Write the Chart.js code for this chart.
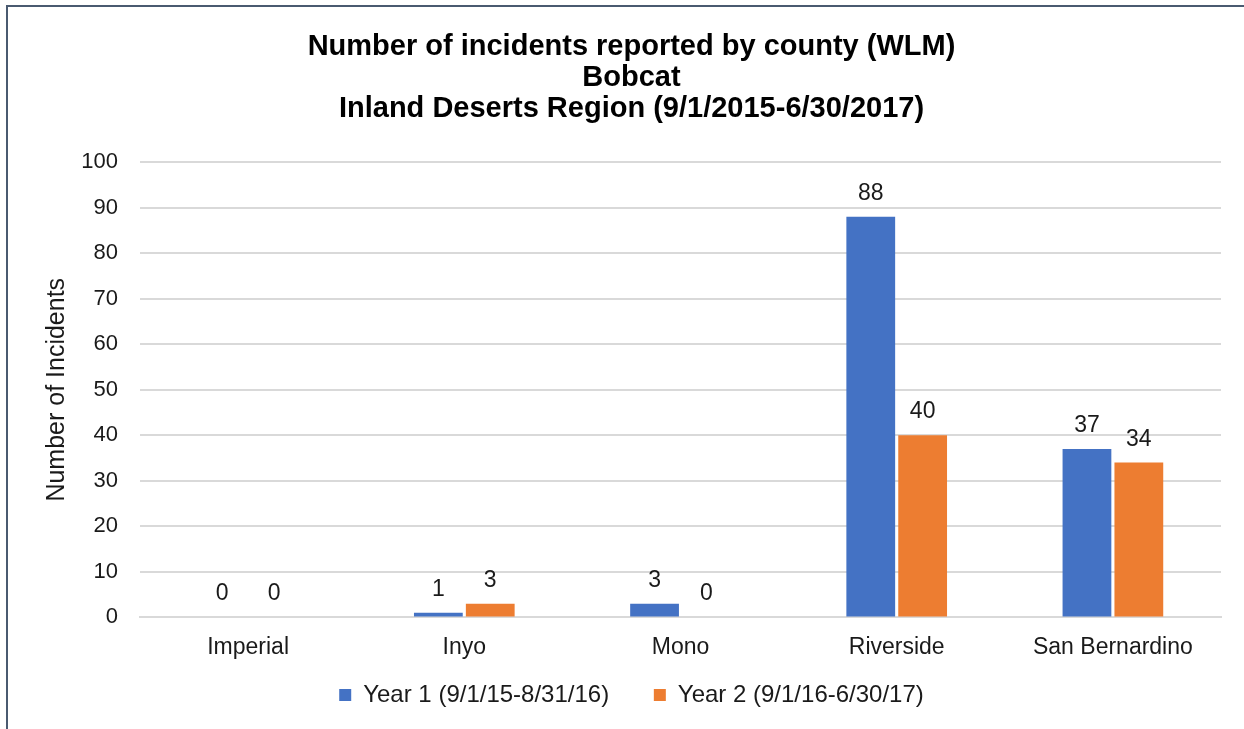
<!DOCTYPE html>
<html>
<head>
<meta charset="utf-8">
<script src="https://cdn.jsdelivr.net/npm/chart.js@4.4.0/dist/chart.umd.min.js"></script>
<style>
  body { margin: 0; background: #fff; overflow: hidden; }
  #frame { position: absolute; left: 6px; top: 5px; width: 1400px; height: 900px; border: 2px solid #4a5a70; box-sizing: border-box; }
  #wrap { position: absolute; left: 0; top: 0; width: 1244px; height: 729px; }
</style>
</head>
<body>
<div id="frame"></div>
<div id="wrap"><canvas id="chart" width="1244" height="729"></canvas></div>
<script>
var counties = ['Imperial', 'Inyo', 'Mono', 'Riverside', 'San Bernardino']
var year1 = [0, 1, 3, 88, 37]
var year2 = [0, 3, 0, 40, 34]
var series_names = ['Year 1 (9/1/15-8/31/16)', 'Year 2 (9/1/16-6/30/17)']
var title_lines = ['Number of incidents reported by county (WLM)', 'Bobcat', 'Inland Deserts Region (9/1/2015-6/30/2017)']

var font_family = '"Liberation Sans", Arial, sans-serif'

// draws the value above each bar
var barLabels = {
    id: 'barLabels',
    afterDatasetsDraw: function(chart) {
        var ctx = chart.ctx
        ctx.save()
        ctx.font = '23px ' + font_family
        ctx.fillStyle = '#1a1a1a'
        ctx.textAlign = 'center'
        ctx.textBaseline = 'alphabetic'
        chart.data.datasets.forEach(function(ds, i) {
            chart.getDatasetMeta(i).data.forEach(function(bar, j) {
                ctx.fillText(ds.data[j], bar.x, bar.y - 17)
            })
        })
        ctx.restore()
    }
}

var ctx = document.getElementById('chart').getContext('2d');
var chart = new Chart(ctx, {
    type: 'bar',
    data: {
        labels: counties,
        datasets: [{
            label: series_names[0],
            data: year1,
            backgroundColor: '#4472c4',
            categoryPercentage: 0.48,
            barPercentage: 0.94
        }, {
            label: series_names[1],
            data: year2,
            backgroundColor: '#ed7d31',
            categoryPercentage: 0.48,
            barPercentage: 0.94
        }],
    },
    options: {
        responsive: false,
        animation: false,
        layout: { padding: { left: 42, right: 23, top: 31, bottom: 12 } },
        plugins: {
            title: {
                display: true,
                text: title_lines,
                color: '#000',
                font: { family: font_family, size: 29, weight: 'bold', lineHeight: 1.07 },
                padding: { top: 0, bottom: 38 }
            },
            legend: {
                position: 'bottom',
                labels: {
                    color: '#1a1a1a',
                    font: { family: font_family, size: 24 },
                    boxWidth: 12,
                    boxHeight: 12,
                    padding: 14,
                    generateLabels: function(chart) {
                        var items = Chart.defaults.plugins.legend.labels.generateLabels(chart)
                        // wider gap between the two entries
                        items[0].text = items[0].text + '\u2003 '
                        return items
                    }
                }
            },
            tooltip: { enabled: false }
        },
        scales: {
            x: {
                grid: { display: false },
                border: { display: true, color: '#d9d9d9', width: 2 },
                ticks: { color: '#1a1a1a', font: { family: font_family, size: 23 }, padding: 8 }
            },
            y: {
                min: 0,
                max: 100,
                afterFit: function(scale) { scale.width = 98 },
                ticks: { stepSize: 10, color: '#1a1a1a', font: { family: font_family, size: 22 }, padding: 22 },
                grid: { color: '#d9d9d9', lineWidth: 2, drawTicks: false },
                border: { display: false },
                title: {
                    display: true,
                    text: 'Number of Incidents',
                    color: '#1a1a1a',
                    font: { family: font_family, size: 25 },
                    padding: { top: 0, bottom: 9 }
                }
            }
        }
    },
    plugins: [barLabels]
});
</script>
</body>
</html>
